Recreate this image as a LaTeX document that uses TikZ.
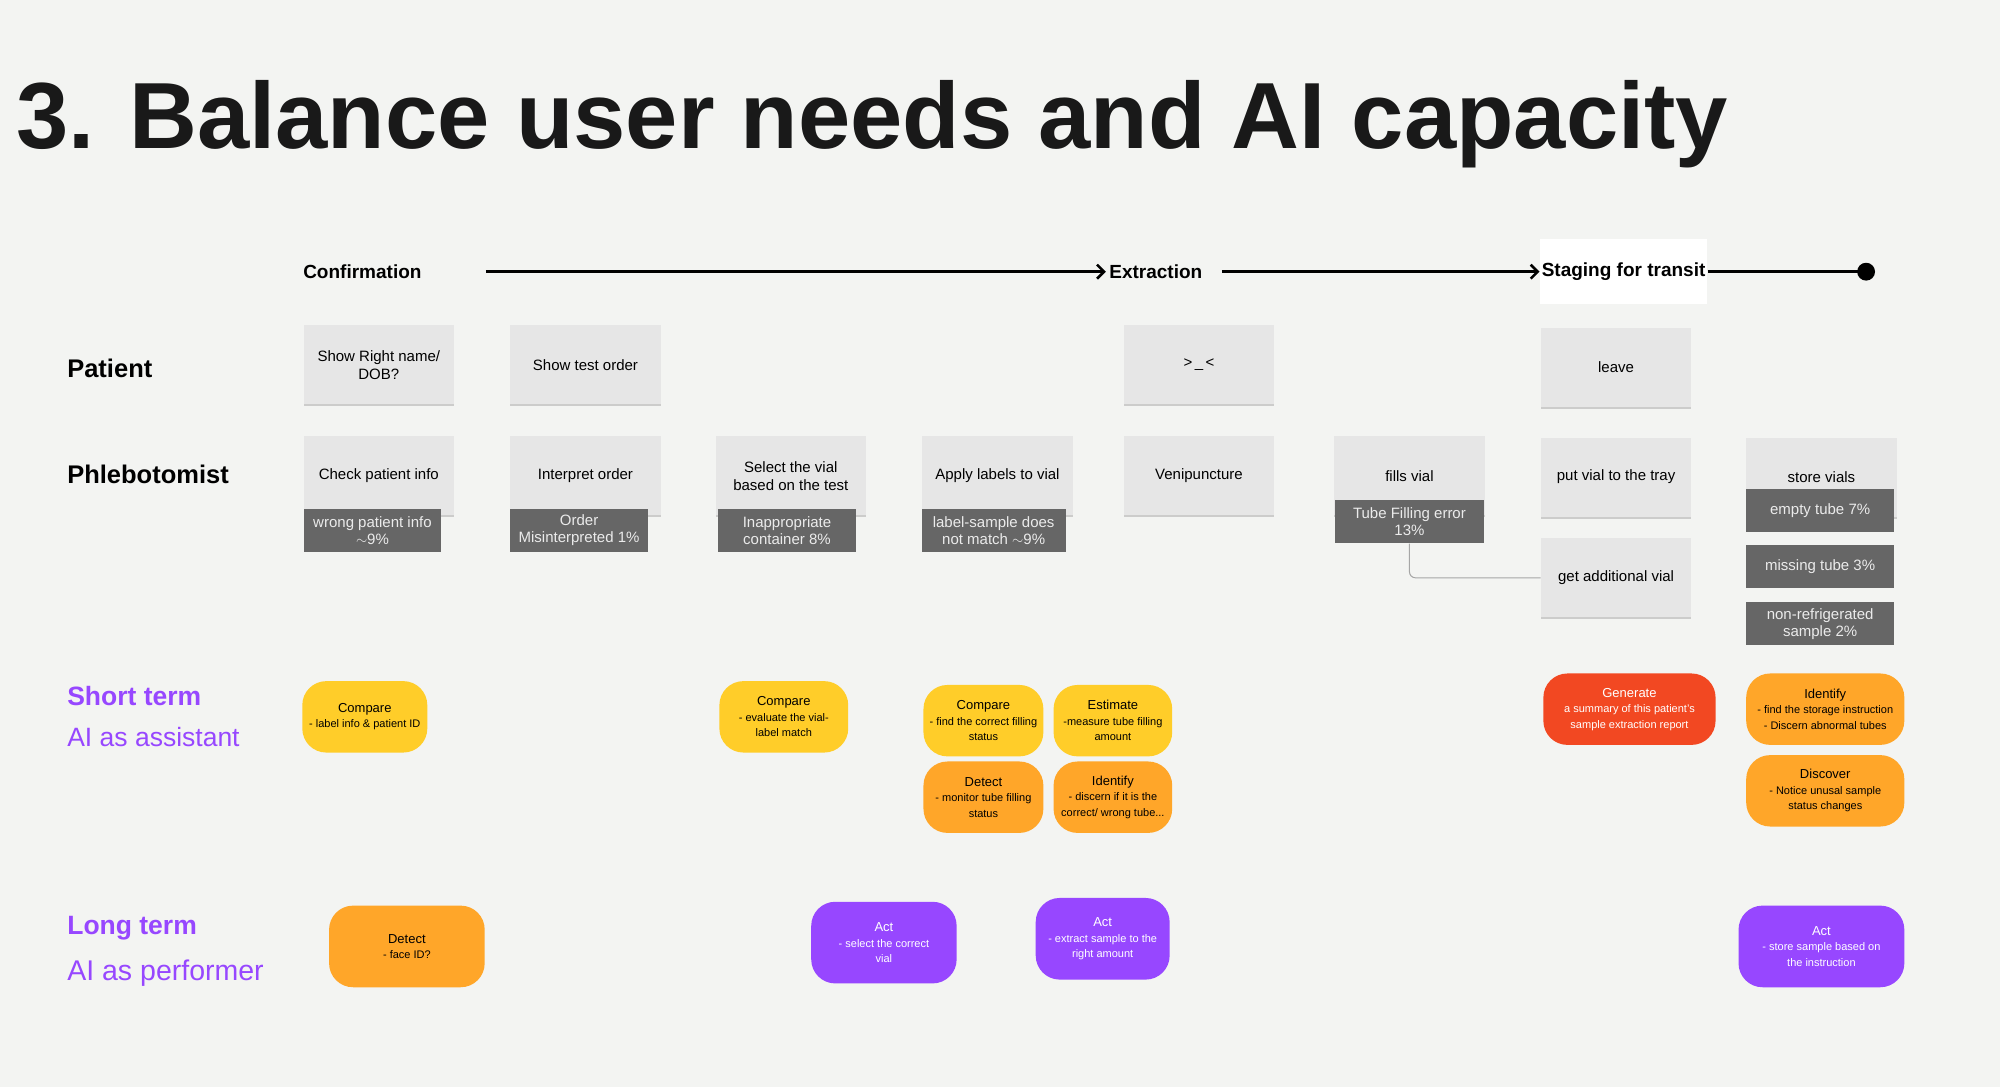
\documentclass[tikz,border=0pt]{standalone}
\usepackage{fontspec}
\setmainfont{Liberation Sans}
\usetikzlibrary{shadows,arrows.meta}
\definecolor{bg}{HTML}{F3F4F2}
\definecolor{card}{HTML}{E6E6E6}
\definecolor{dgrey}{HTML}{666666}
\definecolor{yel}{HTML}{FFCD29}
\definecolor{ora}{HTML}{FFA629}
\definecolor{red}{HTML}{F24822}
\definecolor{pur}{HTML}{9747FF}
\tikzset{
 card/.style={fill=card,minimum width=118*1.2755pt,minimum height=62*1.2755pt,align=center,font=\fontsize{15}{18}\selectfont,
   drop shadow={shadow xshift=0pt,shadow yshift=-2pt,fill=black!35,opacity=0.5}},
 tag/.style={fill=dgrey,text=white!92!black,minimum width=#1*1.2755pt,minimum height=34*1.2755pt,align=center,inner sep=1pt,font=\fontsize{15}{17}\selectfont},
 pill/.style={rounded corners=24pt,align=center,font=\fontsize{11}{15.5}\selectfont,inner sep=1pt},
 hdr/.style={font=\bfseries\fontsize{19}{22}\selectfont,anchor=west},
 rowl/.style={font=\bfseries\fontsize{25.5}{28}\selectfont,anchor=west},
 ai/.style={text=pur,font=\fontsize{28.5}{32}\selectfont,anchor=west},
 arr/.style={line width=2.6pt,-{Straight Barb[length=7pt,width=14pt]}},
}
\newcommand{\pl}[7]{%
 \node[pill,fill=#2,text=#3,minimum width={(#6-#4)*1.2755pt},minimum height={(#7-#5)*1.2755pt}] (#1) at ({(#4+#6)/2},{(#5+#7)/2})}
\newcommand{\pt}[1]{{\fontsize{13}{16}\selectfont #1}}
\begin{document}
\begin{tikzpicture}[x=1.2755pt,y=-1.2755pt]
\fill[bg] (0,0) rectangle (1568,852);
\useasboundingbox (0,0) rectangle (1568,852);
\node[anchor=west,font=\bfseries\fontsize{94}{100}\selectfont,text=black!90] (title) at (10,97) {3. Balance user needs and AI capacity};
% header
\node[hdr] (conf) at (235,213) {Confirmation};
\coordinate (a1) at (381,213);
\node[hdr] (extr) at (867,213) {Extraction};
\coordinate (a2) at (958,213);
\node[hdr,fill=white,minimum height=51*1.2755pt,inner xsep=2pt] (stag) at (1207,213) {Staging for transit};
\fill (1463,213) circle (7) coordinate (dot);
\draw[arr] (a1) -- (extr.west);
\draw[arr] (a2) -- (stag.west);
\draw[line width=2.6pt] (stag.east) -- (dot);
% rows
\node[rowl] (pat) at (50,289) {Patient};
\node[rowl] (phl) at (50,372) {Phlebotomist};
\node[card] (p1) at (297,286) {Show Right name/\\DOB?};
\node[card] (p2) at (459,286) {Show test order};
\node[card] (p3) at (940,286) {>\,\_\,<};
\node[card] (p4) at (1267,288) {leave};
\node[card] (f1) at (297,373) {Check patient info};
\node[card] (f2) at (459,373) {Interpret order};
\node[card] (f3) at (620,373) {Select the vial\\based on the test};
\node[card] (f4) at (782,373) {Apply labels to vial};
\node[card] (f5) at (940,373) {Venipuncture};
\node[card] (f6) at (1105,373) {fills vial};
\node[card] (f7) at (1267,374) {put vial to the tray};
\node[card] (f8) at (1428,374) {store vials};
\node[card] (f9) at (1267,453) {get additional vial};
\node[tag=108] (t1) at (292,416) {wrong patient info\\$\sim$9\%};
\node[tag=108] (t2) at (454,416) {Order\\Misinterpreted 1\%};
\node[tag=108] (t3) at (617,416) {Inappropriate\\container 8\%};
\node[tag=113] (t4) at (779,416) {label-sample does\\not match $\sim$9\%};
\node[tag=117] (t5) at (1105,409) {Tube Filling error\\13\%};
\node[tag=116] (t6) at (1427,400) {empty tube 7\%};
\node[tag=116] (t7) at (1427,444) {missing tube 3\%};
\node[tag=116] (t8) at (1427,489) {non-refrigerated\\sample 2\%};
\draw[gray!70,line width=1pt,rounded corners=6pt] (t5.south) |- (f9.west);
% AI labels
\node[ai,font=\bfseries\fontsize{26.5}{30}\selectfont] (st) at (50,546) {Short term};
\node[ai,font=\fontsize{26.5}{30}\selectfont] (sa) at (50,578) {AI as assistant};
\node[ai,font=\bfseries\fontsize{26.5}{30}\selectfont] (lt) at (50,728) {Long term};
\node[ai] (lp) at (50,763) {AI as performer};
% pills
\pl{c1}{yel}{black}{237}{534}{335}{590} {\pt{Compare}\\- label info \& patient ID};
\pl{c2}{yel}{black}{564}{534}{665}{590} {\pt{Compare}\\- evaluate the vial-\\label match};
\pl{c3}{yel}{black}{724}{537}{818}{593} {\pt{Compare}\\- find the correct filling\\status};
\pl{c4}{yel}{black}{826}{537}{919}{593} {\pt{Estimate}\\-measure tube filling\\amount};
\pl{c5}{ora}{black}{724}{597}{818}{653} {\pt{Detect}\\- monitor tube filling\\status};
\pl{c6}{ora}{black}{826}{597}{919}{653} {\pt{Identify}\\- discern if it is the\\correct/ wrong tube...};
\pl{c7}{red}{white}{1210}{528}{1345}{584} {\pt{Generate}\\a summary of this patient's\\sample extraction report};
\pl{c8}{ora}{black}{1369}{528}{1493}{584} {\pt{Identify}\\- find the storage instruction\\- Discern abnormal tubes};
\pl{c9}{ora}{black}{1369}{592}{1493}{648} {\pt{Discover}\\- Notice unusal sample\\status changes};
\pl{d1}{ora}{black}{258}{710}{380}{774} {\pt{Detect}\\- face ID?};
\pl{d2}{pur}{white}{636}{707}{750}{771} {\pt{Act}\\- select the correct\\vial};
\pl{d3}{pur}{white}{812}{704}{917}{768} {\pt{Act}\\- extract sample to the\\right amount};
\pl{d4}{pur}{white}{1363}{710}{1493}{774} {\pt{Act}\\- store sample based on\\the instruction};
\end{tikzpicture}
\end{document}
